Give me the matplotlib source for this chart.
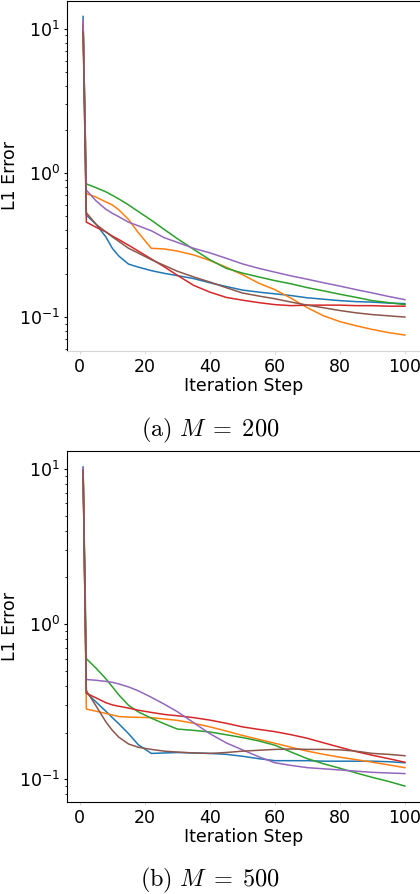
import numpy as np
import matplotlib
matplotlib.use("Agg")
import matplotlib.pyplot as plt

plt.rcParams['mathtext.fontset'] = 'dejavusans'

steps = [1, 2, 5, 8, 10, 12, 15, 18, 22, 26, 30, 35, 40, 45, 50, 55, 60,
         65, 70, 75, 80, 85, 90, 95, 100]

# M = 200
a_blue = [12.2, 0.51, 0.44, 0.36, 0.30, 0.265, 0.233, 0.222, 0.21, 0.201, 0.194, 0.185,
          0.173, 0.163, 0.154, 0.149, 0.145, 0.141, 0.136, 0.133, 0.130, 0.128, 0.127, 0.125, 0.124]
a_orange = [11.0, 0.72, 0.68, 0.63, 0.60, 0.555, 0.475, 0.385, 0.30, 0.297, 0.287, 0.27,
            0.247, 0.222, 0.197, 0.172, 0.155, 0.135, 0.116, 0.102, 0.093, 0.087, 0.082, 0.078, 0.075]
a_green = [10.5, 0.84, 0.79, 0.74, 0.70, 0.66, 0.60, 0.54, 0.47, 0.405, 0.35, 0.295,
           0.25, 0.218, 0.202, 0.19, 0.179, 0.17, 0.16, 0.152, 0.144, 0.137, 0.13, 0.126, 0.122]
a_red = [10.8, 0.456, 0.42, 0.39, 0.365, 0.345, 0.315, 0.287, 0.253, 0.223, 0.195, 0.166,
         0.149, 0.137, 0.131, 0.126, 0.122, 0.12, 0.121, 0.121, 0.121, 0.12, 0.12, 0.119, 0.119]
a_purple = [11.5, 0.76, 0.64, 0.56, 0.525, 0.497, 0.455, 0.43, 0.397, 0.355, 0.33, 0.30,
            0.279, 0.256, 0.234, 0.218, 0.205, 0.193, 0.183, 0.173, 0.164, 0.155, 0.147, 0.139, 0.132]
a_brown = [9.5, 0.53, 0.44, 0.39, 0.36, 0.335, 0.30, 0.278, 0.25, 0.228, 0.208, 0.19,
           0.175, 0.16, 0.147, 0.14, 0.134, 0.127, 0.121, 0.116, 0.111, 0.107, 0.104, 0.102, 0.10]

# M = 500
b_blue = [10.3, 0.362, 0.315, 0.275, 0.25, 0.228, 0.197, 0.167, 0.147, 0.148, 0.149, 0.148,
          0.147, 0.145, 0.141, 0.136, 0.132, 0.132, 0.132, 0.131, 0.131, 0.131, 0.131, 0.130, 0.128]
b_orange = [9.8, 0.284, 0.275, 0.266, 0.26, 0.254, 0.252, 0.251, 0.25, 0.245, 0.24, 0.23,
            0.218, 0.205, 0.192, 0.181, 0.171, 0.161, 0.152, 0.145, 0.139, 0.134, 0.129, 0.124, 0.119]
b_green = [9.9, 0.60, 0.52, 0.445, 0.395, 0.35, 0.30, 0.272, 0.248, 0.228, 0.211, 0.207,
           0.202, 0.194, 0.186, 0.177, 0.166, 0.15, 0.136, 0.126, 0.118, 0.11, 0.103, 0.097, 0.0906]
b_red = [10.0, 0.359, 0.335, 0.312, 0.302, 0.296, 0.288, 0.279, 0.27, 0.262, 0.257, 0.25,
         0.241, 0.23, 0.218, 0.21, 0.203, 0.194, 0.184, 0.172, 0.161, 0.151, 0.143, 0.136, 0.129]
b_purple = [10.1, 0.44, 0.435, 0.428, 0.422, 0.412, 0.394, 0.372, 0.338, 0.305, 0.273, 0.232,
            0.197, 0.172, 0.155, 0.14, 0.128, 0.123, 0.119, 0.117, 0.115, 0.113, 0.111, 0.11, 0.109]
b_brown = [9.65, 0.373, 0.297, 0.235, 0.207, 0.187, 0.169, 0.161, 0.156, 0.152, 0.15, 0.148,
           0.147, 0.149, 0.152, 0.154, 0.156, 0.157, 0.156, 0.156, 0.155, 0.152, 0.147, 0.145, 0.142]

panels = [
    ([a_blue, a_orange, a_green, a_red, a_purple, a_brown], r'$\mathrm{(a)}\ M\;=\;200$'),
    ([b_blue, b_orange, b_green, b_red, b_purple, b_brown], r'$\mathrm{(b)}\ M\;=\;500$'),
]
colors = ['C0', 'C1', 'C2', 'C3', 'C4', 'C5']

fig = plt.figure(figsize=(4.2, 8.94), dpi=100)
ax_pos = [[67 / 420, 1 - 351 / 894, 354 / 420, 350.5 / 894],
          [67 / 420, 1 - 802 / 894, 354 / 420, 351 / 894]]
cap_y = [1 - 430 / 894, 1 - 880 / 894]

for i, (series, cap) in enumerate(panels):
    ax = fig.add_axes(ax_pos[i])
    for s, c in zip(series, colors):
        ax.plot(steps, s, color=c, lw=1.1)
    ax.set_yscale('log')
    ax.set_xticks([0, 20, 40, 60, 80, 100])
    ax.set_xlabel('Iteration Step', fontsize=12.5, labelpad=1)
    ax.set_ylabel('L1 Error', fontsize=12.5, labelpad=0)
    ax.tick_params(axis='both', labelsize=12.5)
    ax.tick_params(axis='y', which='major', length=2.5, width=0.8, pad=2.5)
    ax.tick_params(axis='y', which='minor', length=1.5, width=0.6)
    ax.tick_params(axis='x', length=2.5, color='#d8d8d8', pad=2.5)
    if i == 0:
        ax.spines['bottom'].set_color('#d8d8d8')
    fig.text(0.5, cap_y[i], cap, ha='center', va='center', fontsize=17.5,
             math_fontfamily='cm')

fig.savefig('out.png', dpi=100)
